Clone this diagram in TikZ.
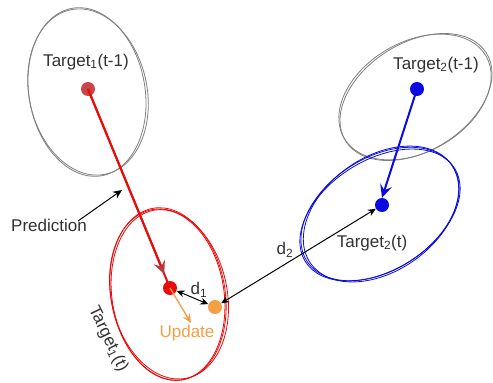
\documentclass[tikz,border=0pt]{standalone}
\usepackage{fontspec}
\setmainfont{Liberation Sans}
\usetikzlibrary{arrows.meta,calc}
\definecolor{sketchgray}{RGB}{128,128,128}
\definecolor{oldred}{RGB}{200,70,70}
\definecolor{tipbrown}{RGB}{180,60,60}
\definecolor{predred}{RGB}{235,10,10}
\definecolor{updorange}{RGB}{242,160,70}
\definecolor{trackblue}{RGB}{10,10,225}
\definecolor{labelgray}{RGB}{50,50,50}
\begin{document}
\begin{tikzpicture}[x=1pt,y=-1pt,
  font=\fontsize{17}{19}\selectfont,
  dot/.style={circle,inner sep=0pt,minimum size=14pt},
  label/.style={text=labelgray,inner sep=1pt},
  dist/.style={black,line width=1pt,{Stealth[length=8pt,width=7pt]}-{Stealth[length=8pt,width=7pt]}},
  pointer/.style={black,line width=1pt,-{Stealth[length=9pt,width=8pt]}},
  sketch/.style={line width=0.8pt}]
\useasboundingbox[fill=white] (0,0) rectangle (493,383);

% gray ellipses at time t-1 (drawn twice for a sketched look)
\draw[sketch,sketchgray,rotate around={10:(87,92)}] (87,92) ellipse[x radius=58,y radius=85];
\draw[sketch,sketchgray,rotate around={12:(88,92)}] (88,92) ellipse[x radius=59,y radius=84];
\draw[sketch,sketchgray,rotate around={30:(415,97)}] (415,97) ellipse[x radius=82,y radius=55];
\draw[sketch,sketchgray,rotate around={32:(416,97)}] (416,97) ellipse[x radius=83,y radius=54];

% ellipses at time t
\draw[sketch,predred,rotate around={10:(168,294)}] (168,294) ellipse[x radius=57,y radius=87];
\draw[sketch,predred,rotate around={12:(169,294)}] (169,294) ellipse[x radius=58,y radius=86];
\draw[sketch,predred,rotate around={9:(168,295)}] (168,295) ellipse[x radius=56,y radius=86];
\draw[sketch,trackblue,rotate around={33:(380,214)}] (380,214) ellipse[x radius=87,y radius=56];
\draw[sketch,trackblue,rotate around={35:(381,214)}] (381,214) ellipse[x radius=86,y radius=57];
\draw[sketch,trackblue,rotate around={32:(380,215)}] (380,215) ellipse[x radius=88,y radius=55];

% target positions
\node[dot,fill=oldred] (p1) at (88,89) {};
\node[dot,fill=predred] (c1) at (170,288) {};
\node[dot,fill=updorange] (u1) at (215,307) {};
\node[dot,fill=trackblue] (p2) at (417,89) {};
\node[dot,fill=trackblue] (c2) at (382,205) {};

% motion of each target
\draw[predred,line width=2pt] (p1.center) -- (c1.center);
\draw[line width=2pt,-{Stealth[length=13pt,width=12pt,inset=5pt,color=tipbrown]},predred]
  (p1.center) -- ($(p1.center)!0.93!(c1.center)$);
\draw[trackblue,line width=2pt,-{Stealth[length=13pt,width=12pt,inset=5pt]}] (p2.center) -- (c2.north);

% update step
\coordinate (upd) at (191,323);
\draw[updorange,line width=1.3pt,-{Stealth[length=9pt,width=8pt]}] (c1.center) -- (upd);
\node[text=updorange] (updtxt) at (187,333) {Update};

% distances
\draw[dist] (c1) -- (u1);
\node[label] (d1) at (199,290) {d\textsubscript{1}};
\draw[dist] (u1) -- (c2);
\node[label] (d2) at (285,250) {d\textsubscript{2}};

% labels
\node[label] (l1) at (86,62) {Target\textsubscript{1}(t-1)};
\node[label] (l2) at (436,65) {Target\textsubscript{2}(t-1)};
\node[label] (l3) at (372,243) {Target\textsubscript{2}(t)};
\node[label,rotate=-64] (l4) at (108,339) {Target\textsubscript{1}(t)};
\node[label] (pred) at (49,225) {Prediction};
\coordinate (predtail) at (78,221);
\coordinate (predtip) at (122,190);
\draw[pointer] (predtail) -- (predtip);
\end{tikzpicture}
\end{document}
